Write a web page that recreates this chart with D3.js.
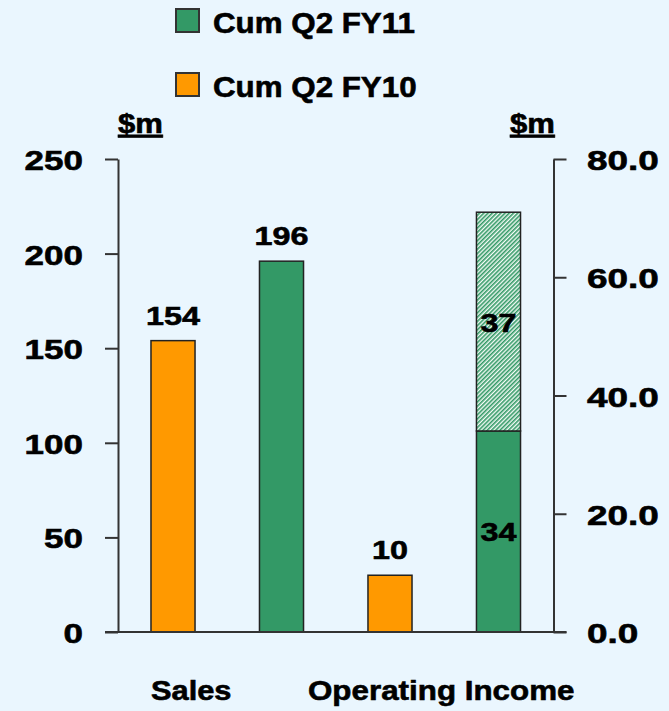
<!DOCTYPE html>
<html>
<head>
<meta charset="utf-8">
<script src="https://cdn.jsdelivr.net/npm/d3@7"></script>
<style>
html, body { margin: 0; padding: 0; background: #eaf6fe; }
svg { display: block; font-family: "Liberation Sans", Arial, sans-serif; font-weight: bold; }
</style>
</head>
<body>
<script>
// data
var bars = ["Sales FY10", "Sales FY11", "OpInc FY10", "OpInc FY11"];
var barAxis = ["left", "left", "right", "right"];
var barSeries = ["FY10", "FY11", "FY10", "FY11"];
var baseValues = [154, 196, 9.6, 34];
var extraValues = [0, 0, 0, 37];
var categories = ["Sales", "Operating Income"];
var legendLabels = ["Cum Q2 FY11", "Cum Q2 FY10"];
var legendSeries = ["FY11", "FY10"];
var leftTicks = [0, 50, 100, 150, 200, 250];
var rightTicks = [0, 20, 40, 60, 80];

var W = 669, H = 711;
var colors = {FY11: "#339966", FY10: "#ff9900"},
	ink = "#000", lineCol = "#333";

var plot = {left: 118, right: 553.5, top: 159, bottom: 632};

var xSc = d3.scaleBand().domain(bars)
	.range([plot.left, plot.right])
	.paddingInner(0.594).paddingOuter(0.304);
var yL = d3.scaleLinear().domain([0, 250]).range([plot.bottom, plot.top]);
var yR = d3.scaleLinear().domain([0, 80]).range([plot.bottom, plot.top]);
function yFor(i) { return barAxis[i] == "left" ? yL : yR; }

var svg = d3.select("body").append("svg")
	.attr("width", W).attr("height", H);

svg.append("rect").attr("width", W).attr("height", H).attr("fill", "#eaf6fe");

var defs = svg.append("defs");
var patt = defs.append("pattern")
	.attr("id", "hatch")
	.attr("patternUnits", "userSpaceOnUse")
	.attr("width", 3).attr("height", 3)
	.attr("patternTransform", "rotate(45)");
patt.append("rect").attr("width", 3).attr("height", 3).attr("fill", "#f4fbf6");
patt.append("rect").attr("width", 1.6).attr("height", 3).attr("fill", colors.FY11);

// stretched bold text, the original is wider and heavier than plain Arial
function stext(g, x, y, str, size, sx, anchor) {
	return g.append("text")
		.attr("transform", "translate(" + x + "," + y + ") scale(" + sx + ",1)")
		.attr("font-size", size + "px")
		.attr("text-anchor", anchor || "start")
		.attr("fill", ink)
		.attr("stroke", ink).attr("stroke-width", 0.6)
		.text(str);
}

// axes
svg.append("g").attr("transform", "translate(" + plot.left + ",0)")
	.call(d3.axisLeft(yL).tickValues(leftTicks).tickSize(13).tickSizeOuter(0).tickFormat(""));
svg.append("g").attr("transform", "translate(" + plot.right + ",0)")
	.call(d3.axisRight(yR).tickValues(rightTicks).tickSize(13).tickSizeOuter(0).tickFormat(""));
svg.selectAll(".domain").attr("stroke", lineCol).attr("stroke-width", 2);
svg.selectAll(".tick line").attr("stroke", lineCol).attr("stroke-width", 2);

leftTicks.forEach(function(t) {
	stext(svg, 83, yL(t) + 11, t, 28, 1.25, "end");
});
rightTicks.forEach(function(t) {
	stext(svg, 587, yR(t) + 11, d3.format(".1f")(t), 28, 1.32, "start");
});

// bars
var g = svg.append("g");
g.selectAll("rect.base").data(bars).enter().append("rect")
	.attr("class", "base")
	.attr("x", function(d) { return xSc(d); })
	.attr("width", xSc.bandwidth())
	.attr("y", function(d, i) { return yFor(i)(baseValues[i]); })
	.attr("height", function(d, i) { return plot.bottom - yFor(i)(baseValues[i]); })
	.attr("fill", function(d, i) { return colors[barSeries[i]]; })
	.attr("stroke", "#222").attr("stroke-width", 1.5);

g.selectAll("rect.extra").data(bars.filter(function(d, i) { return extraValues[i] > 0; })).enter().append("rect")
	.attr("class", "extra")
	.attr("x", function(d) { return xSc(d); })
	.attr("width", xSc.bandwidth())
	.attr("y", function(d) { var i = bars.indexOf(d); return yFor(i)(baseValues[i] + extraValues[i]); })
	.attr("height", function(d) { var i = bars.indexOf(d); return yFor(i)(baseValues[i]) - yFor(i)(baseValues[i] + extraValues[i]); })
	.attr("fill", "url(#hatch)")
	.attr("stroke", "#222").attr("stroke-width", 1.5);

// baseline
svg.append("line")
	.attr("x1", plot.left - 13).attr("x2", plot.right + 13)
	.attr("y1", yL(0)).attr("y2", yL(0))
	.attr("stroke", lineCol).attr("stroke-width", 2);

// value labels
bars.forEach(function(d, i) {
	var y = yFor(i), cx = xSc(d) + xSc.bandwidth() / 2;
	if (extraValues[i] > 0) {
		stext(svg, cx, (y(0) + y(baseValues[i])) / 2 + 10, d3.format(".0f")(baseValues[i]), 26.5, 1.22, "middle");
		stext(svg, cx, (y(baseValues[i]) + y(baseValues[i] + extraValues[i])) / 2 + 10, d3.format(".0f")(extraValues[i]), 26.5, 1.22, "middle");
	} else {
		stext(svg, cx, y(baseValues[i]) - 16, d3.format(".0f")(baseValues[i]), 26.5, 1.22, "middle");
	}
});

// category labels
stext(svg, xSc(bars[0]), 700, categories[0], 28, 1.1, "start");
stext(svg, (xSc(bars[2]) + xSc(bars[3]) + xSc.bandwidth()) / 2 - 3, 700, categories[1], 28, 1.12, "middle");

// unit labels
stext(svg, plot.left, 133, "$m", 27, 1.15, "start").attr("text-decoration", "underline");
stext(svg, 510, 133, "$m", 27, 1.15, "start").attr("text-decoration", "underline");

// legend
var leg = svg.append("g").attr("transform", "translate(176,9)");
legendLabels.forEach(function(l, i) {
	leg.append("rect")
		.attr("x", 0).attr("y", i * 64)
		.attr("width", 23).attr("height", 23)
		.attr("fill", colors[legendSeries[i]])
		.attr("stroke", lineCol).attr("stroke-width", 2);
	stext(leg, 37, i * 64 + 24, l, 29, 1.08, "start");
});
</script>
</body>
</html>
